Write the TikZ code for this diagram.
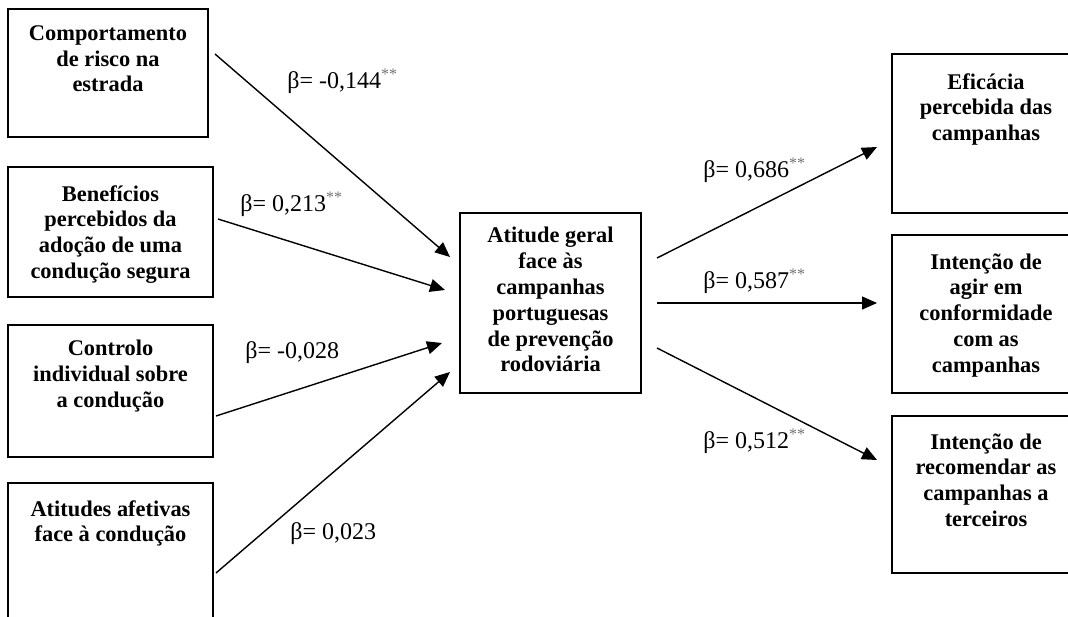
\documentclass[tikz,border=0pt]{standalone}
\usepackage{fontspec}
\setmainfont{Liberation Serif}
\usetikzlibrary{arrows.meta}
\newcommand\sigmark{\textsuperscript{\textcolor{black!55}{**}}}
\begin{document}
\begin{tikzpicture}[x=0.5pt,y=-0.5pt,
  box/.style={draw, line width=0.9pt, inner sep=0pt, outer sep=0pt},
  boxtext/.style={anchor=north, align=center, inner sep=0pt,
    font=\bfseries\fontsize{11.2}{12.9}\selectfont},
  coef/.style={anchor=base west, inner sep=0pt, font=\fontsize{12}{14}\selectfont},
  link/.style={line width=0.7pt, -{Triangle[length=7.5pt,width=6.5pt]}}]
\useasboundingbox (0,0) rectangle (1068,616);
\fill[white] (0,0) rectangle (1068,616);
\clip (0,0) rectangle (1068,616);

% predictor boxes (left column)
\node[box, minimum width=100pt,   minimum height=64pt]   (b1) at (108,73)    {};
\node[box, minimum width=102.5pt, minimum height=65pt]   (b2) at (110.5,232) {};
\node[box, minimum width=102.5pt, minimum height=66pt]   (b3) at (110.5,391) {};
\node[box, minimum width=102.5pt, minimum height=68.5pt] (b4) at (110.5,551.5) {};
% central attitude box
\node[box, minimum width=90.5pt,  minimum height=90pt]   (c)  at (550.5,303) {};
% outcome boxes (right column)
\node[box, minimum width=94pt, minimum height=79.5pt] (r1) at (986,133.5) {};
\node[box, minimum width=94pt, minimum height=79pt]   (r2) at (986,314)   {};
\node[box, minimum width=94pt, minimum height=78.5pt] (r3) at (986,494.5) {};

% box captions
\node[boxtext] (t1) at (108,25)    {Comportamento\\de risco na\\estrada};
\node[boxtext] (t2) at (110.5,185) {Benefícios\\percebidos da\\adoção de uma\\condução segura};
\node[boxtext] (t3) at (110.5,340) {Controlo\\individual sobre\\a condução};
\node[boxtext] (t4) at (110.5,500) {Atitudes afetivas\\face à condução};
\node[boxtext] (tc) at (550.5,227) {Atitude geral\\face às\\campanhas\\portuguesas\\de prevenção\\rodoviária};
\node[boxtext] (u1) at (986,73)  {Eficácia\\percebida das\\campanhas};
\node[boxtext] (u2) at (986,253) {Intenção de\\agir em\\conformidade\\com as\\campanhas};
\node[boxtext] (u3) at (986,433) {Intenção de\\recomendar as\\campanhas a\\terceiros};

% arrow end points
\coordinate (s1) at (215,54);  \coordinate (e1) at (450,257);
\coordinate (s2) at (218,219); \coordinate (e2) at (445,290);
\coordinate (s3) at (216,416); \coordinate (e3) at (442,343);
\coordinate (s4) at (216,573); \coordinate (e4) at (450,372);
\coordinate (p1) at (657,258); \coordinate (q1) at (877,147);
\coordinate (p2) at (657,303); \coordinate (q2) at (877,303);
\coordinate (p3) at (657,348); \coordinate (q3) at (877,460);

\draw[link] (s1) -- (e1);
\draw[link] (s2) -- (e2);
\draw[link] (s3) -- (e3);
\draw[link] (s4) -- (e4);
\draw[link] (p1) -- (q1);
\draw[link] (p2) -- (q2);
\draw[link] (p3) -- (q3);

% path coefficients
\node[coef] (k1) at (287,88)  {β= -0,144\sigmark};
\node[coef] (k2) at (240,211) {β= 0,213\sigmark};
\node[coef] (k3) at (245,358) {β= -0,028};
\node[coef] (k4) at (290,539) {β= 0,023};
\node[coef] (k5) at (703,177) {β= 0,686\sigmark};
\node[coef] (k6) at (703,288) {β= 0,587\sigmark};
\node[coef] (k7) at (703,448) {β= 0,512\sigmark};
\end{tikzpicture}
\end{document}
